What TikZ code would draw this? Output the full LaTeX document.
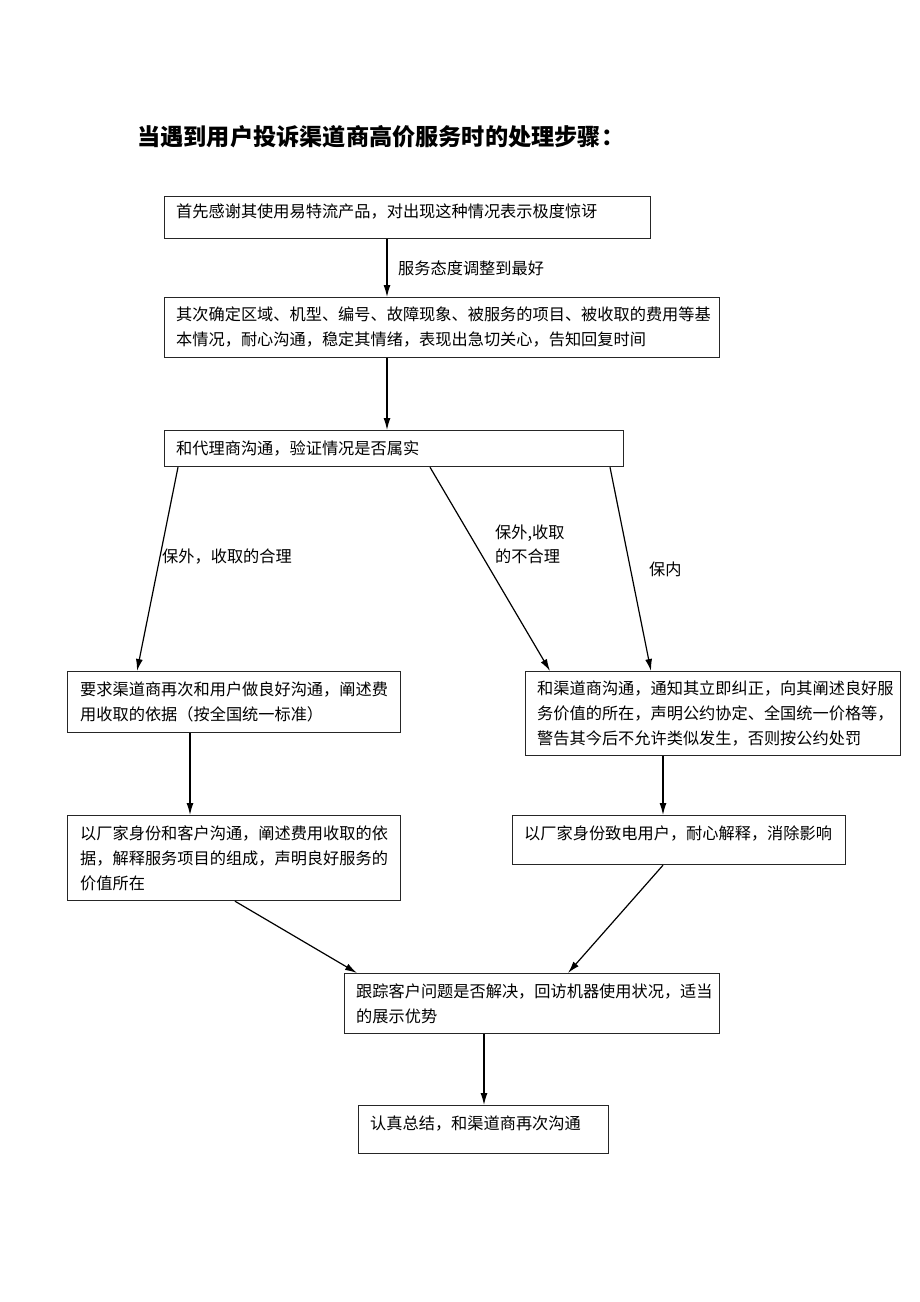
\documentclass[tikz,border=0pt]{standalone}
\usepackage{fontspec}
\newfontfamily\cjk{Noto Sans CJK SC}
\usetikzlibrary{arrows.meta,calc}
\tikzset{
  box/.style={draw=black!85, line width=1.2pt, rectangle, inner sep=0pt, anchor=north west},
  txt/.style={inner sep=0pt, anchor=north west, align=left, font=\cjk\fontsize{16.2}{24.8}\selectfont},
  lbl/.style={inner sep=0pt, anchor=west, align=left, font=\cjk\fontsize{16.2}{24}\selectfont},
  arr/.style={line width=1.2pt, -{Latex[length=12pt,width=7pt]}},
}
\begin{document}
\begin{tikzpicture}[x=1pt,y=-1pt]
\useasboundingbox[fill=white] (0,0) rectangle (920,1302);
% title
\node[inner sep=0pt, anchor=west, font=\cjk\bfseries\fontsize{23.2}{26}\selectfont] (title) at (137,137) {当遇到用户投诉渠道商高价服务时的处理步骤：};
% boxes
\node[box, minimum width=486pt, minimum height=42pt] (b1) at (164,196) {};
\node[box, minimum width=555pt, minimum height=60pt] (b2) at (164,297) {};
\node[box, minimum width=459pt, minimum height=36pt] (b3) at (164,430) {};
\node[box, minimum width=333pt, minimum height=61pt] (b4) at (67,671) {};
\node[box, minimum width=375pt, minimum height=84pt] (b5) at (525,671) {};
\node[box, minimum width=333pt, minimum height=85pt] (b6) at (67,815) {};
\node[box, minimum width=333pt, minimum height=49pt] (b7) at (512,815) {};
\node[box, minimum width=375pt, minimum height=60pt] (b8) at (344,973) {};
\node[box, minimum width=250pt, minimum height=48pt] (b9) at (358,1105) {};
% texts
\node[txt] (t1) at ($(b1.north west)+(12,8)$) {首先感谢其使用易特流产品，对出现这种情况表示极度惊讶};
\node[txt] (t2) at ($(b2.north west)+(12,10)$) {其次确定区域、机型、编号、故障现象、被服务的项目、被收取的费用等基\\本情况，耐心沟通，稳定其情绪，表现出急切关心，告知回复时间};
\node[txt] (t3) at ($(b3.north west)+(12,11)$) {和代理商沟通，验证情况是否属实};
\node[txt] (t4) at ($(b4.north west)+(13,11)$) {要求渠道商再次和用户做良好沟通，阐述费\\用收取的依据（按全国统一标准）};
\node[txt] (t5) at ($(b5.north west)+(12,10)$) {和渠道商沟通，通知其立即纠正，向其阐述良好服\\务价值的所在，声明公约协定、全国统一价格等，\\警告其今后不允许类似发生，否则按公约处罚};
\node[txt] (t6) at ($(b6.north west)+(13,11)$) {以厂家身份和客户沟通，阐述费用收取的依\\据，解释服务项目的组成，声明良好服务的\\价值所在};
\node[txt] (t7) at ($(b7.north west)+(12,11)$) {以厂家身份致电用户，耐心解释，消除影响};
\node[txt] (t8) at ($(b8.north west)+(12,11)$) {跟踪客户问题是否解决，回访机器使用状况，适当\\的展示优势};
\node[txt] (t9) at ($(b9.north west)+(12,11)$) {认真总结，和渠道商再次沟通};
% labels
\node[lbl] (l1) at (398,268) {服务态度调整到最好};
\node[lbl] (l2) at (162,557) {保外，收取的合理};
\node[lbl, anchor=north west] (l3) at (495,525) {保外,收取\\的不合理};
\node[lbl] (l4) at (649,569) {保内};
% connectors
\draw[arr] ($(b1.south west)+(223,0)$) -- ($(b2.north west)+(223,0)$);
\draw[arr] ($(b2.south west)+(223,0)$) -- ($(b3.north west)+(223,0)$);
\draw[arr] ($(b3.south west)+(14,0)$) -- ($(b4.north west)+(70,0)$);
\draw[arr] ($(b3.south west)+(266,0)$) -- ($(b5.north west)+(25,0)$);
\draw[arr] ($(b3.south west)+(446,0)$) -- ($(b5.north west)+(126,0)$);
\draw[arr] ($(b4.south west)+(123,0)$) -- ($(b6.north west)+(123,0)$);
\draw[arr] ($(b5.south west)+(138,0)$) -- ($(b7.north west)+(151,0)$);
\draw[arr] ($(b6.south west)+(168,0)$) -- ($(b8.north west)+(13,0)$);
\draw[arr] ($(b7.south west)+(151,0)$) -- ($(b8.north west)+(224,0)$);
\draw[arr] ($(b8.south west)+(140,0)$) -- ($(b9.north west)+(126,0)$);
\end{tikzpicture}
\end{document}
